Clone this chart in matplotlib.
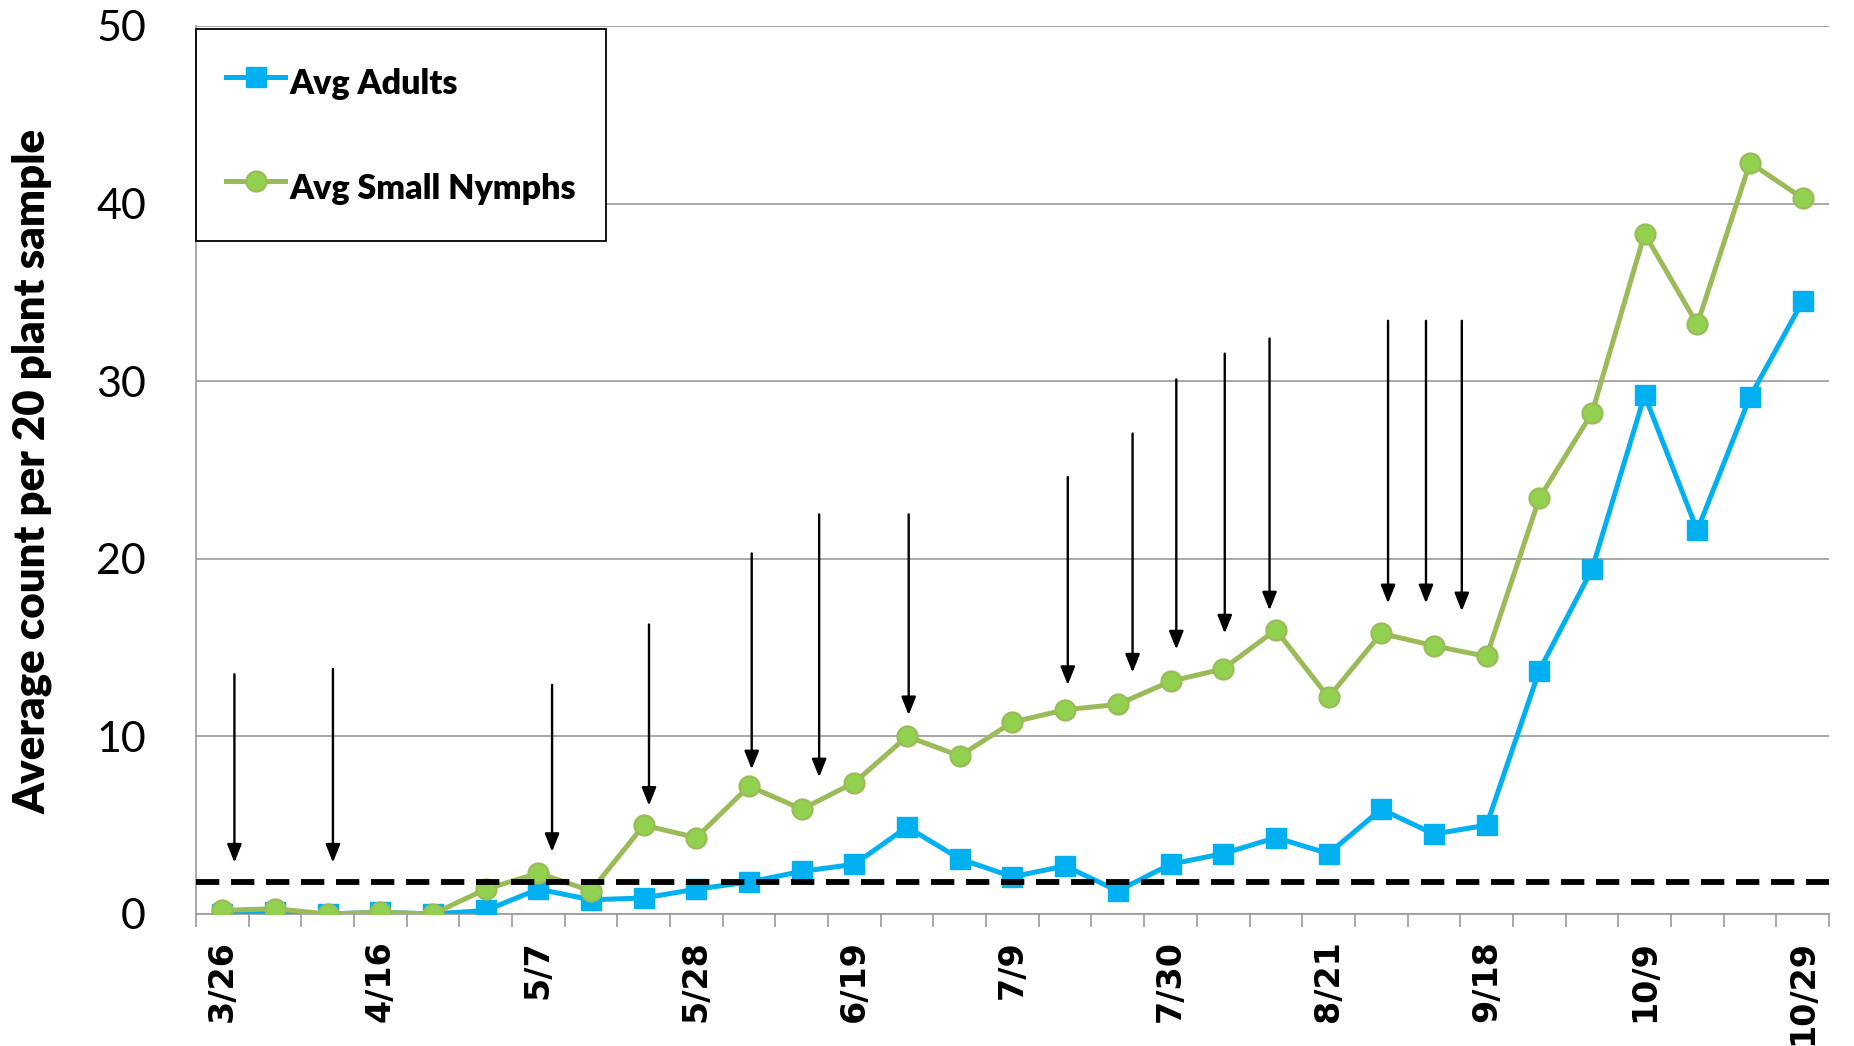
import matplotlib.pyplot as plt
import numpy as np

# sampling dates (only every third one is labelled on the axis)
tick_labels = ['3/26', '4/16', '5/7', '5/28', '6/19', '7/9', '7/30',
               '8/21', '9/18', '10/9', '10/29']

adults = [0.0, 0.1, 0.0, 0.1, 0.0, 0.2, 1.4, 0.8, 0.9, 1.4, 1.8, 2.4, 2.8,
          4.9, 3.1, 2.1, 2.7, 1.3, 2.8, 3.4, 4.3, 3.4, 5.9, 4.5, 5.0, 13.7,
          19.4, 29.2, 21.6, 29.1, 34.5]
small_nymphs = [0.2, 0.3, 0.0, 0.1, 0.0, 1.4, 2.3, 1.3, 5.0, 4.3, 7.2, 5.9,
                7.4, 10.0, 8.9, 10.8, 11.5, 11.8, 13.1, 13.8, 16.0, 12.2,
                15.8, 15.1, 14.5, 23.4, 28.2, 38.3, 33.2, 42.3, 40.3]
threshold = 1.8

# spray arrows: x position (category units), start and tip (counts)
arrow_x = [0.23, 2.10, 6.26, 8.10, 10.05, 11.33, 13.03, 16.05, 17.28, 18.11,
           19.03, 19.88, 22.13, 22.85, 23.53]
arrow_top = [13.5, 13.8, 12.9, 16.3, 20.3, 22.5, 22.5, 24.6, 27.05, 30.1,
             31.55, 32.4, 33.4, 33.4, 33.4]
arrow_tip = [2.9, 2.9, 3.5, 6.1, 8.15, 7.7, 11.2, 12.9, 13.6, 14.9, 15.8,
             17.1, 17.5, 17.5, 17.05]

x = np.arange(len(adults))
grey = '#999999'

fig = plt.figure(figsize=(18.54, 10.46), dpi=100)
ax = fig.add_axes([0.1057, 0.1262, 0.8808, 0.849])

ax.plot(x, adults, color='#00B0F0', lw=3.6, marker='s', ms=14,
        mec='#00B0F0', mfc='#00B0F0', label='Avg Adults', zorder=3)
ax.plot(x, small_nymphs, color='#9BBB59', lw=3.6, marker='o', ms=14.5,
        mec='#9BBB59', mfc='#92D050', mew=1.5, label='Avg Small Nymphs',
        zorder=4)
ax.axhline(threshold, color='black', lw=4.2, ls=(0, (4, 2)), zorder=5)

for xa, top, tip in zip(arrow_x, arrow_top, arrow_tip):
    ax.annotate('', xy=(xa, tip), xytext=(xa, top),
                arrowprops=dict(arrowstyle='-|>,head_length=0.55,head_width=0.22',
                                color='black', lw=1.7, shrinkA=0, shrinkB=0,
                                mutation_scale=20), zorder=6)

ax.set_xlim(-0.5, len(adults) - 0.5)
ax.set_ylim(0, 50)
ax.set_yticks(np.arange(0, 51, 10))
ax.yaxis.grid(True, color=grey, lw=1.2)
ax.set_axisbelow(True)

ax.set_xticks(x[::3])
ax.set_xticklabels(tick_labels, rotation=90, fontfamily='DejaVu Sans',
                   fontweight='bold', fontsize=24)
ax.set_xticks(np.arange(-0.5, len(adults)), minor=True)
ax.tick_params(axis='x', which='major', length=0, pad=19)
ax.tick_params(axis='x', which='minor', length=9, width=1.2, color=grey,
               direction='out')
ax.tick_params(axis='y', length=0, pad=36)
for lab in ax.get_yticklabels():
    lab.set_fontfamily('Lato')
    lab.set_fontsize(31)

for s in ['top', 'right']:
    ax.spines[s].set_visible(False)
for s in ['left', 'bottom']:
    ax.spines[s].set_color(grey)
    ax.spines[s].set_linewidth(1.2)

fig.text(0.0173, 0.5497, 'Average count per 20 plant sample', rotation=90,
         ha='center', va='center', fontfamily='Lato', fontweight='heavy',
         fontsize=31.5)

leg = ax.legend(loc='upper left', bbox_to_anchor=(0.0, 0.996),
                prop=dict(family='Lato', weight='heavy', size=24.5),
                fancybox=False, framealpha=1, edgecolor='black',
                handlelength=1.75, handleheight=1.73, handletextpad=0.12,
                labelspacing=1.71, borderpad=0.88, borderaxespad=0)
leg.get_frame().set_linewidth(1.3)

fig.savefig('out.png', dpi=100)
